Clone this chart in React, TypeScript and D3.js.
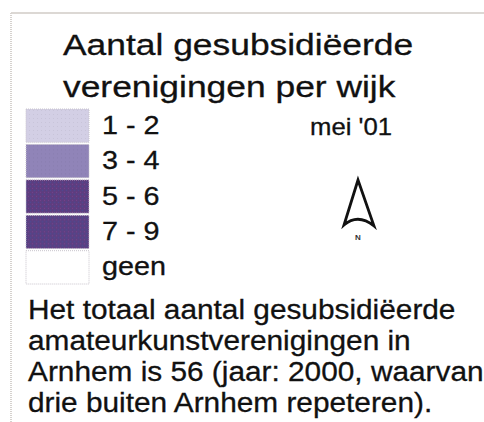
import * as d3 from "d3";
import { useEffect, useRef } from "react";

const classLabels = ["1 - 2", "3 - 4", "5 - 6", "7 - 9", "geen"];
const classColors = ["#d3cfe5", "#9084b8", "#5c3e80", "#5a4183", "#ffffff"];
const titleLines = ["Aantal gesubsidiëerde", "verenigingen per wijk"];
const noteLines = [
    "Het totaal aantal gesubsidiëerde",
    "amateurkunstverenigingen in",
    "Arnhem is 56 (jaar: 2000, waarvan",
    "drie buiten Arnhem repeteren).",
];
const dateLabel = "mei '01";

export default function App() {
    const ref = useRef<SVGSVGElement | null>(null);

    useEffect(() => {
        if (!ref.current) return;
        const width = 484;
        const height = 422;
        const font = "'Liberation Sans', Arial, Helvetica, sans-serif";

        const svg = d3.select(ref.current);
        svg.selectAll("*").remove();

        svg.append("rect").attr("width", width).attr("height", height).attr("fill", "#fff");

        // the scan is stretched sideways, so text gets a horizontal scale
        const txt = (sel: any, size: number, sx: number) =>
            sel.attr("font-family", font)
                .attr("font-size", size)
                .attr("fill", "#111")
                .attr("stroke", "#111")
                .attr("stroke-width", 0.3)
                .attr("transform", function (this: any) {
                    const t = d3.select(this);
                    return `translate(${t.attr("data-x")},${t.attr("data-y")}) scale(${sx},1)`;
                });

        // frame (top + left edge only visible)
        svg.append("line")
            .attr("x1", 11).attr("x2", width).attr("y1", 13).attr("y2", 13)
            .attr("stroke", "#dcd8d4").attr("stroke-width", 2);
        svg.append("line")
            .attr("x1", 11).attr("x2", 11).attr("y1", 13).attr("y2", height)
            .attr("stroke", "#d6d2ce").attr("stroke-width", 2)
            .attr("stroke-dasharray", "1,1");

        // title
        txt(svg.append("g")
            .selectAll("text")
            .data(titleLines)
            .join("text")
            .attr("data-x", 63)
            .attr("data-y", (d, i) => 55 + i * 42)
            .text((d) => d), 30, 1.18);

        // legend
        const y = d3.scaleBand()
            .domain(classLabels)
            .range([109, 284])
            .paddingInner(0.06);

        const defs = svg.append("defs");
        classColors.forEach((c, i) => {
            const p = defs.append("pattern")
                .attr("id", `dith${i}`)
                .attr("width", 4).attr("height", 4)
                .attr("patternUnits", "userSpaceOnUse");
            p.append("rect").attr("width", 4).attr("height", 4).attr("fill", c);
            if (i >= 2 && i <= 3) {
                p.append("rect").attr("x", 0).attr("y", 0).attr("width", 1).attr("height", 1).attr("fill", "#7a3f8a");
                p.append("rect").attr("x", 2).attr("y", 2).attr("width", 1).attr("height", 1).attr("fill", "#4a4a96");
            } else if (i < 2) {
                p.append("rect").attr("x", 1).attr("y", 1).attr("width", 1).attr("height", 1)
                    .attr("fill", d3.color(c)!.darker(0.15).toString());
            }
        });

        const rows = svg.append("g")
            .selectAll("g")
            .data(classLabels)
            .join("g")
            .attr("transform", (d) => `translate(0,${y(d)})`);

        rows.append("rect")
            .attr("x", 26)
            .attr("width", 63)
            .attr("height", y.bandwidth())
            .attr("fill", (d, i) => `url(#dith${i})`)
            .attr("stroke", "#c8c4cc")
            .attr("stroke-width", 1)
            .attr("stroke-dasharray", "1,1");

        txt(rows.append("text")
            .attr("data-x", 102)
            .attr("data-y", y.bandwidth() / 2 + 8)
            .text((d) => d), 25, 1.15);

        // date
        txt(svg.append("text")
            .attr("data-x", 310)
            .attr("data-y", 135)
            .text(dateLabel), 24, 1.07);

        // north arrow
        svg.append("path")
            .attr("d", "M358,180 L344,225 Q358,213 374,226 Z")
            .attr("fill", "none")
            .attr("stroke", "#111")
            .attr("stroke-width", 2.8)
            .attr("stroke-linejoin", "miter");
        svg.append("text")
            .attr("x", 358)
            .attr("y", 240)
            .attr("text-anchor", "middle")
            .attr("font-family", font)
            .attr("font-size", 8)
            .attr("font-weight", "bold")
            .attr("fill", "#333")
            .text("N");

        // note
        txt(svg.append("g")
            .selectAll("text")
            .data(noteLines)
            .join("text")
            .attr("data-x", 28)
            .attr("data-y", (d, i) => 319 + i * 31)
            .text((d) => d), 28, 1.065);
    }, []);

    return (
        <svg
            ref={ref}
            width={484}
            height={422}
            style={{ position: "absolute", left: 0, top: 0 }}
        ></svg>
    );
}
